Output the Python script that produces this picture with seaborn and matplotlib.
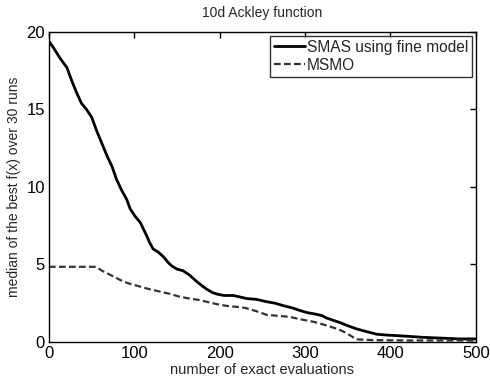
import matplotlib
matplotlib.use("Agg")
import matplotlib.pyplot as plt
import seaborn as sns
import pandas as pd

smas_x = [0,5,13,21,27,33,38,44,50,56,62,68,74,79,85,91,95,101,107,114,118,122,128,134,140,144,150,157,165,173,180,185,191,196,205,216,224,232,243,255,265,274,285,293,302,312,320,325,333,341,350,360,370,384,395,411,425,438,460,480,500]
smas_y = [19.4,19.0,18.3,17.7,16.8,16.0,15.4,15.0,14.5,13.6,12.8,12.0,11.3,10.5,9.8,9.2,8.6,8.1,7.7,6.9,6.4,6.0,5.8,5.5,5.1,4.9,4.7,4.6,4.3,3.9,3.6,3.4,3.2,3.1,3.0,3.0,2.9,2.8,2.75,2.6,2.5,2.35,2.2,2.05,1.9,1.8,1.7,1.55,1.4,1.25,1.05,0.85,0.7,0.5,0.45,0.4,0.35,0.3,0.25,0.2,0.2]
msmo_x = [0,20,40,55,62,71,80,87,95,107,118,130,142,153,165,177,188,200,212,224,232,245,255,270,282,296,310,320,329,340,349,355,360,380,420,460,500]
msmo_y = [4.85,4.85,4.85,4.85,4.6,4.35,4.1,3.9,3.75,3.57,3.4,3.25,3.1,2.92,2.8,2.7,2.55,2.4,2.3,2.25,2.17,1.95,1.75,1.68,1.62,1.45,1.3,1.15,1.0,0.8,0.56,0.35,0.17,0.12,0.1,0.1,0.1]

labels = ["SMAS using fine model", "MSMO"]
x_ticks = [0, 100, 200, 300, 400, 500]
y_ticks = [0, 5, 10, 15, 20]

sns.set_style("white")
plt.rcParams['font.family'] = ['Liberation Sans', 'DejaVu Sans']

fig = plt.figure(figsize=(4.9, 3.8), dpi=100)
ax = fig.add_axes([0.1, 0.1, 0.871, 0.816])

df1 = pd.DataFrame({"x": smas_x, "y": smas_y})
df2 = pd.DataFrame({"x": msmo_x, "y": msmo_y})
sns.lineplot(data=df1, x="x", y="y", ax=ax, color="black", linewidth=2.0,
             estimator=None, sort=False, label=labels[0])
sns.lineplot(data=df2, x="x", y="y", ax=ax, color="#333333", linewidth=1.6,
             linestyle=(0, (3, 1.5)), estimator=None, sort=False, label=labels[1])

ax.set_xlim(0, 500)
ax.set_ylim(0, 20)
ax.set_xticks(x_ticks)
ax.set_yticks(y_ticks)
ax.tick_params(direction="in", length=4, width=1, top=True, right=True,
               labelsize=12, colors="black", pad=3)
for s in ax.spines.values():
    s.set_color("black")
    s.set_linewidth(1.0)
ax.set_xlabel("number of exact evaluations", fontsize=10.5, labelpad=1)
ax.set_ylabel("median of the best f(x) over 30 runs", fontsize=10, labelpad=4)
ax.set_title("10d Ackley function", fontsize=10, pad=11)

leg = ax.legend(loc="upper right", fontsize=11.2, frameon=True, fancybox=False,
                handlelength=2.0, handletextpad=0.1, borderpad=0.25,
                labelspacing=0.2, borderaxespad=0.25, shadow=False)
leg.get_frame().set_edgecolor("black")
leg.get_frame().set_linewidth(1.0)

fig.savefig("out.png", dpi=100)
